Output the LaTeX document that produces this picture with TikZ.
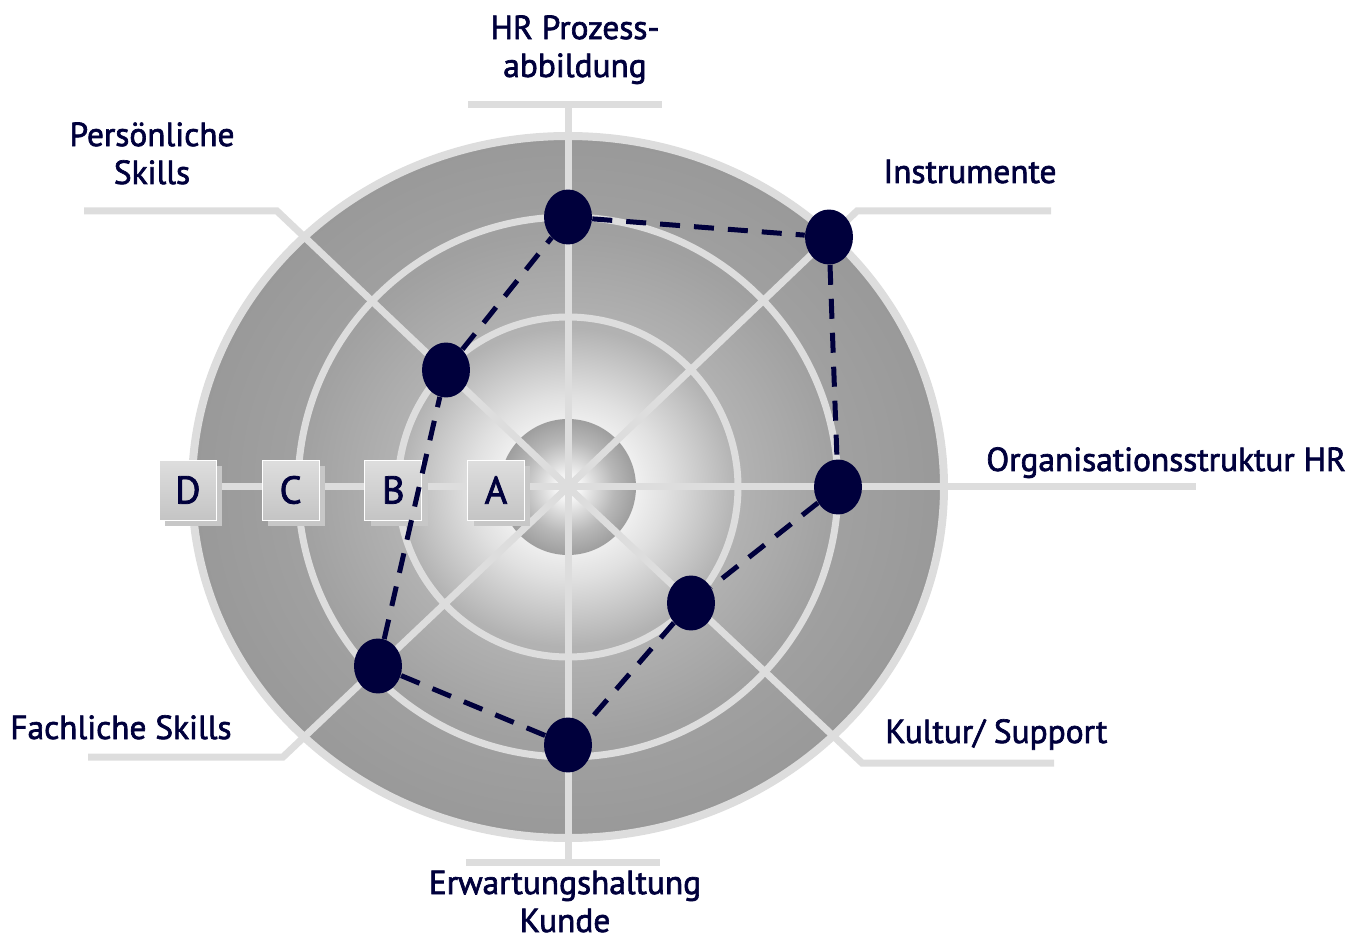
\documentclass[tikz,border=0pt]{standalone}
\usepackage{fontspec}
\setmainfont[FakeBold=2]{PT Sans}
\usepackage{xcolor}
\definecolor{mynavy}{RGB}{0,0,60}
\definecolor{mygray}{RGB}{221,221,221}
\usepackage{tikz}
\usetikzlibrary{positioning}
\usetikzlibrary{shapes,calc,shadows}
\pgfdeclareradialshading{discshade}{\pgfpoint{0bp}{0bp}}{color(0bp)=(white); color(4.5bp)=(white!94!black); color(6.5bp)=(white!88!black); color(11.3bp)=(white!70!black); color(18bp)=(white!63!black); color(25bp)=(white!60!black); color(50bp)=(white!60!black)}
\pgfdeclareradialshading{coreshade}{\pgfpoint{0bp}{0bp}}{color(0bp)=(white); color(5bp)=(white!95!black); color(17bp)=(white!72!black); color(25bp)=(white!62!black); color(50bp)=(white!62!black)}

\begin{document}
\begin{tikzpicture}[x=0.02cm, y=-0.02cm]
        \useasboundingbox (0,0) rectangle (1370,942);
        \coordinate (O) at (568,487);
        % disc and core
        \shade[shading=discshade] (O) ellipse [x radius=376, y radius=351];
        \shade[shading=coreshade] (O) circle [radius=68];
        % spokes, rings and label lines
        \begin{scope}[spoke/.style={draw=mygray, line width=0.14cm}]
            \draw[spoke] (568,105) -- (568,862);
            \draw[spoke] (468,105) -- (662,105);
            \draw[spoke] (466,862) -- (660,862);
            \draw[spoke] (190,487) -- (1196,487);
            \draw[spoke] (O) -- (857,211) -- (1051,211);
            \draw[spoke] (O) -- (277,211) -- (84,211);
            \draw[spoke] (O) -- (283,757) -- (88,757);
            \draw[spoke] (O) -- (862,763) -- (1054,763);
            \draw[spoke] (O) circle [radius=170];
            \draw[spoke] (O) circle [radius=270];
            \draw[spoke, line width=0.16cm] (O) ellipse [x radius=376, y radius=351];
        \end{scope}
        % level boxes
        \begin{scope}[every node/.style={rectangle, draw=white, thin, top color=white!87!black, bottom color=white!77!black,
                      minimum width=1.14cm, minimum height=1.2cm, text=mynavy, font=\fontsize{22}{24}\selectfont,
                      drop shadow={shadow xshift=0.12cm, shadow yshift=-0.12cm, fill=white!78!black, opacity=1}}]
            \node (bA) at (496,490) {A};
            \node[left=0.9cm of bA] (bB) {B};
            \node[left=0.9cm of bB] (bC) {C};
            \node[left=0.9cm of bC] (bD) {D};
        \end{scope}
        % profile
        \begin{scope}[every node/.style={ellipse, fill=mynavy, inner sep=0pt, minimum width=0.96cm, minimum height=1.1cm}]
            \node (HR) at (568,217) {};
            \node (IN) at (829,237) {};
            \node (OS) at (838,487) {};
            \node (KS) at (691,603) {};
            \node (EK) at (568,745) {};
            \node (FS) at (378,666) {};
            \node (PS) at (446,370) {};
        \end{scope}
        \begin{scope}[every path/.style={draw=mynavy, line width=0.1cm, dash pattern=on 0.4cm off 0.28cm}]
            \path (HR) -- (IN) -- (OS) -- (KS) -- (EK) -- (FS) -- (PS) -- (HR);
        \end{scope}
        % labels
        \begin{scope}[every node/.style={text=mynavy, font=\fontsize{19}{21.6}\selectfont, align=center, inner sep=0pt}]
            \node[anchor=base] (tHR) at (575,77) {HR Prozess-\\abbildung};
            \node[anchor=base] (tPS) at (152,184) {Persönliche\\Skills};
            \node[anchor=base] (tIN) at (970,183) {Instrumente};
            \node[anchor=base west] (tOS) at (986,471) {Organisationsstruktur HR};
            \node[anchor=base west] (tKS) at (885,743) {Kultur/ Support};
            \node[anchor=base west] (tFS) at (10,739) {Fachliche Skills};
            \node[anchor=base] (tEK) at (565,932) {Erwartungshaltung\\Kunde};
        \end{scope}
\end{tikzpicture}
\end{document}
